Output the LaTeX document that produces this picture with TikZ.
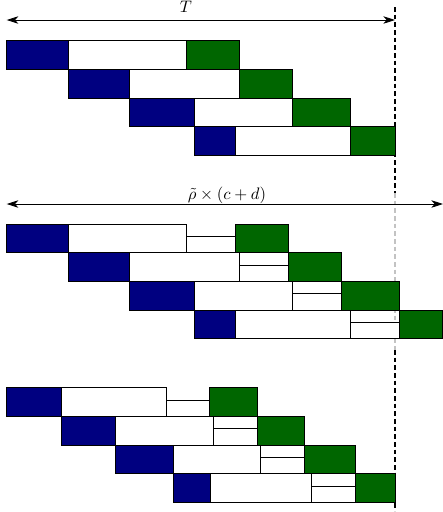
\documentclass[tikz,border=0pt]{standalone}
\usetikzlibrary{arrows.meta}
\definecolor{taskblue}{RGB}{0,0,128}
\definecolor{taskgreen}{RGB}{0,102,0}
\definecolor{dashgray}{RGB}{195,195,195}
\newcommand\taskrow[6]{%
  \draw[bluebox]  (#2,#1) rectangle (#3,{#1+28.7});
  \draw[whitebox] (#3,#1) rectangle (#4,{#1+28.7});
  \draw[greenbox] (#5,#1) rectangle (#6,{#1+28.7});
  \ifdim #4pt<#5pt
    \draw[whitebox] (#4,{#1+12.5}) rectangle (#5,{#1+28.7});
  \fi
}
\begin{document}
\begin{tikzpicture}[x=0.6pt,y=-0.6pt,
  bluebox/.style={draw=black,fill=taskblue,line width=0.5pt},
  whitebox/.style={draw=black,fill=white,line width=0.5pt},
  greenbox/.style={draw=black,fill=taskgreen,line width=0.5pt},
  dimarrow/.style={{Stealth[length=7pt,width=4.5pt,inset=2pt]}-{Stealth[length=7pt,width=4.5pt,inset=2pt]},line width=0.5pt},
  deadline/.style={line width=0.7pt,dash pattern=on 2.8pt off 1.8pt},
  lbl/.style={anchor=base,inner sep=0pt}]
\useasboundingbox (0,0) rectangle (443,512);
% deadline (behind the boxes)
\coordinate (d0) at (395,7);
\coordinate (d1) at (395,193);
\coordinate (d2) at (395,350);
\coordinate (d3) at (395,511);
\draw[deadline] (d0) -- (d1);
\draw[deadline,draw=dashgray] (d1) -- (d2);
\draw[deadline] (d2) -- (d3);
% section 1
\taskrow{40.7}{6.7}{68.3}{186.3}{186.3}{239.3}
\taskrow{69.3}{68.3}{129.3}{239.3}{239.3}{292.7}
\taskrow{98}{129.3}{194.7}{292.7}{292.7}{350}
\taskrow{126.7}{194.7}{235.7}{350}{350}{395}
% section 2
\taskrow{224}{6.7}{68.3}{186.3}{235.7}{288.3}
\taskrow{252.7}{68.3}{129.3}{239.3}{288.3}{341.7}
\taskrow{281.3}{129.3}{194.7}{292.7}{341.7}{399}
\taskrow{310}{194.7}{235.7}{350}{399}{442.6}
% section 3
\taskrow{387.7}{6.7}{61}{166.3}{209.7}{257}
\taskrow{416.3}{61}{115.7}{213.3}{257}{304.3}
\taskrow{445}{115.7}{173.7}{260.7}{304.3}{355}
\taskrow{473.7}{173.7}{210}{311.3}{355}{395}
% dimension arrows
\coordinate (tL) at (6.7,20);
\coordinate (tR) at (395,20);
\draw[dimarrow] (tL) -- (tR);
\node[lbl] (tlabel) at (186,12) {$T$};
\coordinate (rL) at (6.7,204);
\coordinate (rR) at (443,204);
\draw[dimarrow] (rL) -- (rR);
\node[lbl] (rholabel) at (227,199.5) {$\tilde{\rho}\times(c+d)$};
\end{tikzpicture}
\end{document}
